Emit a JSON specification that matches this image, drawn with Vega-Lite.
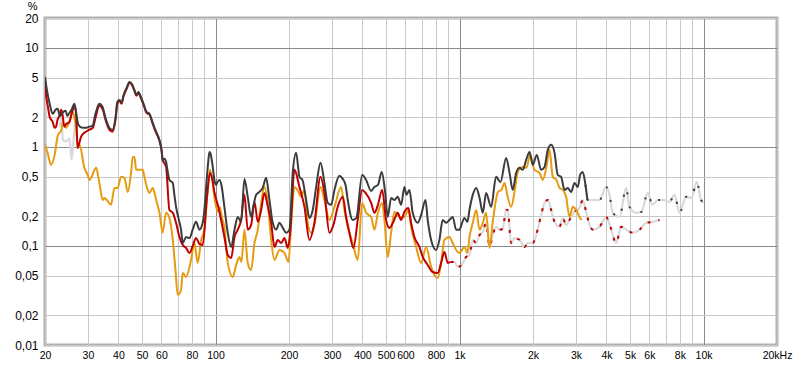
{
"$schema": "https://vega.github.io/schema/vega-lite/v6.json",
"width": 732, "height": 327,
"autosize": {"type": "none"},
"padding": {"left": 45, "top": 18, "right": 23, "bottom": 24},
"background": "white",
"config": {
 "view": {"stroke": "#b0b0b0", "strokeWidth": 3},
 "axis": {"labelFont": "Liberation Sans", "labelFontSize": 12, "labelColor": "#000000", "titleFont": "Liberation Sans", "ticks": false, "tickSize": 0, "domain": false, "labelOverlap": false, "labelFlush": false}
},
"datasets": {
 "THD": [[20,5.10],[20.3,3.94],[20.9,2.72],[21.5,2.16],[22.1,2.37],[22.5,2.42],[23.1,2.05],[23.8,2.26],[24.3,2.31],[24.7,2.05],[25.2,2.21],[25.7,2.37],[26.4,2.72],[26.9,2.11],[27.4,1.67],[28.5,1.56],[29.6,1.56],[30.4,1.60],[31.3,1.63],[32.2,2.16],[33.4,2.72],[34.4,2.54],[35.4,1.96],[36.7,1.56],[37.8,1.49],[38.9,1.96],[39.6,2.85],[40.4,2.98],[41.2,2.78],[41.9,3.28],[43.2,3.94],[44.4,4.53],[45.6,4.23],[46.5,3.76],[47.4,3.35],[48.3,3.59],[49.2,3.28],[50.7,2.72],[52.1,2.26],[53.6,2.16],[55.1,1.79],[56.2,1.56],[57.3,1.39],[58.9,1.17],[60.1,0.933],[60.7,0.723],[61.7,0.757],[62.7,0.706],[63.5,0.586],[64.7,0.464],[66.8,0.433],[67.8,0.328],[68.9,0.248],[70.4,0.192],[72.2,0.146],[73.4,0.107],[75.7,0.123],[78.2,0.120],[80.6,0.146],[83.2,0.175],[85.9,0.146],[88.6,0.171],[90.0,0.231],[92.0,0.464],[93.5,0.740],[94.4,0.890],[95.7,0.830],[97.4,0.628],[98.9,0.464],[100.6,0.413],[101.8,0.443],[103.8,0.464],[105.7,0.413],[108.7,0.248],[112.2,0.136],[115.9,0.0977],[119.6,0.146],[123.3,0.196],[127.3,0.175],[131.3,0.475],[135.5,0.313],[139.9,0.196],[143.0,0.254],[146.7,0.328],[151.3,0.351],[156.1,0.385],[161.2,0.487],[166.3,0.291],[171.5,0.171],[177.2,0.146],[182.8,0.171],[188.6,0.152],[194.7,0.136],[200.8,0.146],[207.2,0.546],[213.9,0.870],[220.7,0.498],[227.0,0.464],[235.1,0.291],[242.6,0.192],[250.2,0.231],[258.4,0.394],[269.3,0.690],[279.4,0.433],[288.2,0.272],[297.7,0.260],[307.1,0.368],[321.9,0.510],[332.1,0.475],[341.0,0.413],[348.2,0.291],[364.9,0.183],[377.9,0.192],[398.8,0.521],[414.1,0.464],[434.2,0.359],[447.8,0.394],[462.9,0.413],[479.8,0.559],[495.3,0.351],[507.8,0.196],[524.3,0.305],[540.8,0.291],[558.0,0.313],[576.2,0.260],[594.4,0.394],[605.8,0.328],[623.1,0.368],[642.8,0.216],[673.9,0.171],[695.8,0.205],[725.3,0.291],[740.5,0.183],[764.7,0.115],[801.6,0.0911],[826.9,0.115],[853.2,0.183],[881,0.171],[908.8,0.183],[937.6,0.196],[968.2,0.146],[999,0.146],[1018,0.163],[1047,0.192],[1077,0.175],[1098,0.231],[1133,0.328],[1170,0.385],[1208,0.305],[1245,0.216],[1285,0.343],[1347,0.248],[1412,0.498],[1472,0.443],[1552,0.774],[1603,0.546],[1652,0.368],[1706,0.546],[1762,0.614],[1816,0.586],[1875,0.740],[1936,0.890],[1995,0.658],[2072,0.830],[2159,0.586],[2230,0.628],[2299,0.933],[2374,1.05],[2451,0.870],[2526,0.521],[2608,0.498],[2693,0.368],[2776,0.385],[2866,0.351],[2960,0.433],[3051,0.394],[3121,0.521],[3199,0.559],[3281,0.413],[3343,0.291]],
 "THDnf": [[3281,0.413],[3353,0.291],[3515,0.291],[3747,0.291],[3988,0.394],[4118,0.328],[4245,0.216],[4525,0.196],[4816,0.385],[4973,0.248],[5292,0.216],[5563,0.221],[5906,0.343],[6174,0.260],[6490,0.291],[6847,0.291],[7253,0.278],[7604,0.328],[7971,0.216],[8483,0.313],[8918,0.305],[9376,0.443],[9773,0.291],[10000,0.272]],
 "H2": [[20,4.75],[20.2,3.35],[20.5,2.66],[20.9,2.01],[21.5,1.79],[21.9,1.56],[22.2,1.60],[22.5,1.87],[22.9,2.05],[23.3,2.37],[23.6,2.11],[24.0,1.60],[24.5,1.71],[25.2,1.79],[25.7,2.16],[26.4,2.54],[26.8,2.26],[27.2,0.977],[28.1,1.26],[29.0,1.39],[30.4,1.49],[31.4,1.56],[32.2,1.96],[33.4,2.60],[34.4,2.42],[35.4,1.87],[36.7,1.49],[37.8,1.42],[38.9,1.87],[39.6,2.72],[40.4,2.91],[41.2,2.72],[41.9,3.20],[43.2,3.85],[44.4,4.43],[45.6,4.13],[46.5,3.68],[47.4,3.28],[48.3,3.51],[49.2,3.20],[50.7,2.66],[52.1,2.21],[53.6,2.11],[55.1,1.75],[56.2,1.52],[57.3,1.36],[58.9,1.15],[60.1,0.911],[60.7,0.740],[62.7,0.628],[64.7,0.231],[66.8,0.216],[68.9,0.171],[71.1,0.123],[73.4,0.102],[75.7,0.0955],[78.2,0.085],[80.6,0.100],[83.2,0.120],[85.9,0.105],[88.6,0.102],[92.0,0.291],[94.9,0.546],[97.1,0.464],[98.9,0.351],[102.1,0.260],[105.4,0.183],[108.7,0.123],[112.2,0.0811],[115.9,0.0757],[119.6,0.123],[123.3,0.146],[127.3,0.183],[131.3,0.328],[135.5,0.146],[139.9,0.163],[144.4,0.278],[149.0,0.175],[153.8,0.231],[158.6,0.343],[163.2,0.260],[169.0,0.171],[174.4,0.0977],[179.9,0.115],[185.8,0.107],[191.6,0.120],[197.7,0.0955],[202.7,0.146],[210.5,0.586],[220.7,0.394],[231.4,0.248],[242.6,0.115],[254.2,0.171],[269.3,0.498],[279.4,0.343],[292.9,0.136],[304.2,0.163],[316.8,0.248],[332.1,0.313],[342.9,0.196],[353.7,0.136],[367.3,0.0955],[382.6,0.183],[398.8,0.368],[411.8,0.343],[434.2,0.272],[447.8,0.216],[462.9,0.260],[481.6,0.368],[500.1,0.183],[515.9,0.152],[535.7,0.175],[558.0,0.216],[576.2,0.183],[594.4,0.221],[616.7,0.242],[633.2,0.171],[653.1,0.123],[684.7,0.0977],[706.4,0.0774],[740.5,0.0643],[776.4,0.0546],[813.8,0.0533],[840.4,0.0674],[866.9,0.087],[894.4,0.0674],[918.3,0.069]],
 "H2nf": [[918.3,0.069],[952.7,0.069],[982.9,0.0614],[1018,0.0643],[1064,0.0774],[1098,0.0811],[1133,0.115],[1170,0.107],[1208,0.129],[1245,0.139],[1285,0.171],[1327,0.0977],[1368,0.129],[1412,0.156],[1459,0.146],[1503,0.149],[1552,0.231],[1575,0.231],[1627,0.107],[1680,0.120],[1762,0.115],[1847,0.0977],[1904,0.107],[1995,0.107],[2089,0.146],[2159,0.205],[2230,0.272],[2299,0.291],[2374,0.231],[2451,0.175],[2569,0.156],[2648,0.192],[2734,0.163],[2823,0.183],[2960,0.221],[3103,0.242],[3199,0.291],[3302,0.221],[3410,0.163],[3515,0.146],[3747,0.156],[3988,0.196],[4153,0.156],[4383,0.107],[4594,0.156],[4829,0.146],[5126,0.136],[5465,0.146],[5816,0.171],[6174,0.175],[6600,0.183]],
 "H3": [[20,1.05],[20.5,0.870],[21.2,0.658],[21.9,0.830],[22.6,1.32],[23.3,1.46],[23.7,1.75],[24.4,1.56],[25.2,1.79],[26.0,2.26],[26.4,1.96],[26.9,1.49],[27.2,0.977],[27.7,1.05],[29.0,0.614],[29.9,0.521],[30.4,0.464],[31.3,0.521],[31.9,0.586],[32.4,0.614],[33.4,0.433],[34.5,0.291],[35.0,0.305],[36.1,0.285],[37.3,0.260],[38.5,0.385],[39.7,0.385],[41.0,0.498],[42.3,0.487],[43.7,0.351],[45.1,0.559],[45.8,0.792],[46.5,0.792],[47.3,0.586],[48.8,0.586],[50.3,0.586],[51.1,0.498],[52.7,0.368],[53.6,0.343],[55.3,0.385],[57.1,0.291],[58.9,0.216],[60.7,0.136],[62.7,0.216],[64.7,0.192],[66.8,0.115],[68.5,0.0572],[70.0,0.0320],[72.2,0.0359],[73.4,0.0533],[75.7,0.0487],[79.4,0.0723],[81.9,0.107],[84.5,0.0674],[87.3,0.115],[90.0,0.146],[92.9,0.368],[94.9,0.586],[97.1,0.453],[98.9,0.313],[102.1,0.221],[103.8,0.248],[106.8,0.183],[108.7,0.156],[112.2,0.0674],[117.6,0.0487],[121.5,0.0643],[125.3,0.0774],[127.7,0.069],[131.3,0.146],[135.5,0.0674],[139.9,0.0572],[144.4,0.107],[149.0,0.146],[153.8,0.272],[158.6,0.394],[163.2,0.291],[169.0,0.115],[174.4,0.0723],[182.8,0.0911],[191.6,0.085],[199.0,0.069],[204.6,0.183],[210.5,0.394],[216.5,0.368],[224.3,0.313],[231.4,0.368],[238.7,0.171],[246.5,0.136],[254.2,0.163],[269.3,0.394],[279.4,0.291],[292.9,0.183],[307.1,0.248],[327.2,0.394],[337.5,0.231],[348.2,0.156],[364.9,0.107],[382.6,0.0723],[398.8,0.272],[414.1,0.216],[434.2,0.196],[447.8,0.146],[462.9,0.216],[481.6,0.272],[492.1,0.183],[507.8,0.0774],[524.3,0.136],[540.8,0.221],[566.9,0.196],[594.4,0.196],[616.7,0.231],[633.2,0.156],[663.8,0.0977],[695.8,0.0674],[729.4,0.0977],[764.7,0.0614],[788.8,0.051],[813.8,0.0475],[840.4,0.0674],[866.9,0.115],[908.8,0.123],[937.6,0.107],[968.2,0.0911],[999,0.085],[1047,0.0977],[1077,0.085],[1098,0.123],[1133,0.171],[1170,0.231],[1208,0.146],[1245,0.171],[1285,0.216],[1327,0.0955],[1368,0.175],[1438,0.351],[1485,0.368],[1529,0.433],[1575,0.313],[1627,0.248],[1680,0.351],[1733,0.559],[1816,0.628],[1880,0.614],[1947,0.830],[2029,0.586],[2127,0.546],[2193,0.464],[2270,0.628],[2338,0.933],[2410,0.498],[2495,0.464],[2569,0.385],[2648,0.368],[2734,0.313],[2823,0.196],[2911,0.248],[3005,0.231],[3103,0.196],[3159,0.183]],
 "H3nf": [[23.0,1.60],[23.3,1.94],[23.7,1.17],[24.4,1.13],[25.2,1.22],[25.7,0.740],[26.2,1.17],[26.7,2.21]]
},
"encoding": {
 "x": {"field": "0", "type": "quantitative", "scale": {"type": "log", "domain": [20, 20000], "nice": false},
  "axis": {"title": null, "grid": true, "labelPadding": 5, "labelFontSize": 10.5,
   "values": [20,30,40,50,60,70,80,90,100,200,300,400,500,600,700,800,900,1000,2000,3000,4000,5000,6000,7000,8000,9000,10000,20000],
   "labelExpr": "datum.value == 20000 ? '20kHz' : (indexof([70,90,700,900,7000,9000], datum.value) >= 0 ? '' : (datum.value >= 1000 ? (datum.value / 1000) + 'k' : '' + datum.value))",
   "gridColor": {"condition": {"test": "indexof([100,1000,10000], datum.value) >= 0", "value": "#8a8a8a"}, "value": "#c8c8c8"}}},
 "y": {"field": "1", "type": "quantitative", "scale": {"type": "log", "domain": [0.01, 20], "nice": false},
  "axis": {"title": "%", "titleAngle": 0, "titleAlign": "right", "titleBaseline": "alphabetic", "titleX": -8, "titleY": -9, "titleFontSize": 11, "titleFontWeight": "normal", "titleColor": "#000000",
   "grid": true, "labelPadding": 7,
   "values": [0.01,0.02,0.05,0.1,0.2,0.5,1,2,5,10,20],
   "labelExpr": "replace('' + datum.value, '.', ',')",
   "gridColor": {"condition": {"test": "indexof([0.1,1,10], datum.value) >= 0", "value": "#8a8a8a"}, "value": "#c8c8c8"}}}
},
"layer": [
 {"data": {"name": "THDnf"}, "mark": {"type": "line", "color": "#d9d9d9", "strokeWidth": 2.2, "interpolate": "monotone", "clip": true}},
 {"data": {"name": "H2nf"}, "mark": {"type": "line", "color": "#d9d9d9", "strokeWidth": 2.2, "interpolate": "monotone", "clip": true}},
 {"data": {"name": "H3nf"}, "mark": {"type": "line", "color": "#d9d9d9", "strokeWidth": 2.2, "interpolate": "monotone", "clip": true}},
 {"data": {"name": "THDnf"}, "mark": {"type": "line", "color": "#3c3c3c", "strokeWidth": 2, "strokeDash": [2, 12], "interpolate": "monotone", "clip": true}},
 {"data": {"name": "H2nf"}, "mark": {"type": "line", "color": "#c00000", "strokeWidth": 2, "strokeDash": [3, 8], "interpolate": "monotone", "clip": true}},
 {"data": {"name": "H3"}, "mark": {"type": "line", "color": "#e69b10", "strokeWidth": 2, "interpolate": "monotone", "clip": true}},
 {"data": {"name": "H2"}, "mark": {"type": "line", "color": "#c00000", "strokeWidth": 2, "interpolate": "monotone", "clip": true}},
 {"data": {"name": "THD"}, "mark": {"type": "line", "color": "#3c3c3c", "strokeWidth": 2, "interpolate": "monotone", "clip": true}}
]
}
